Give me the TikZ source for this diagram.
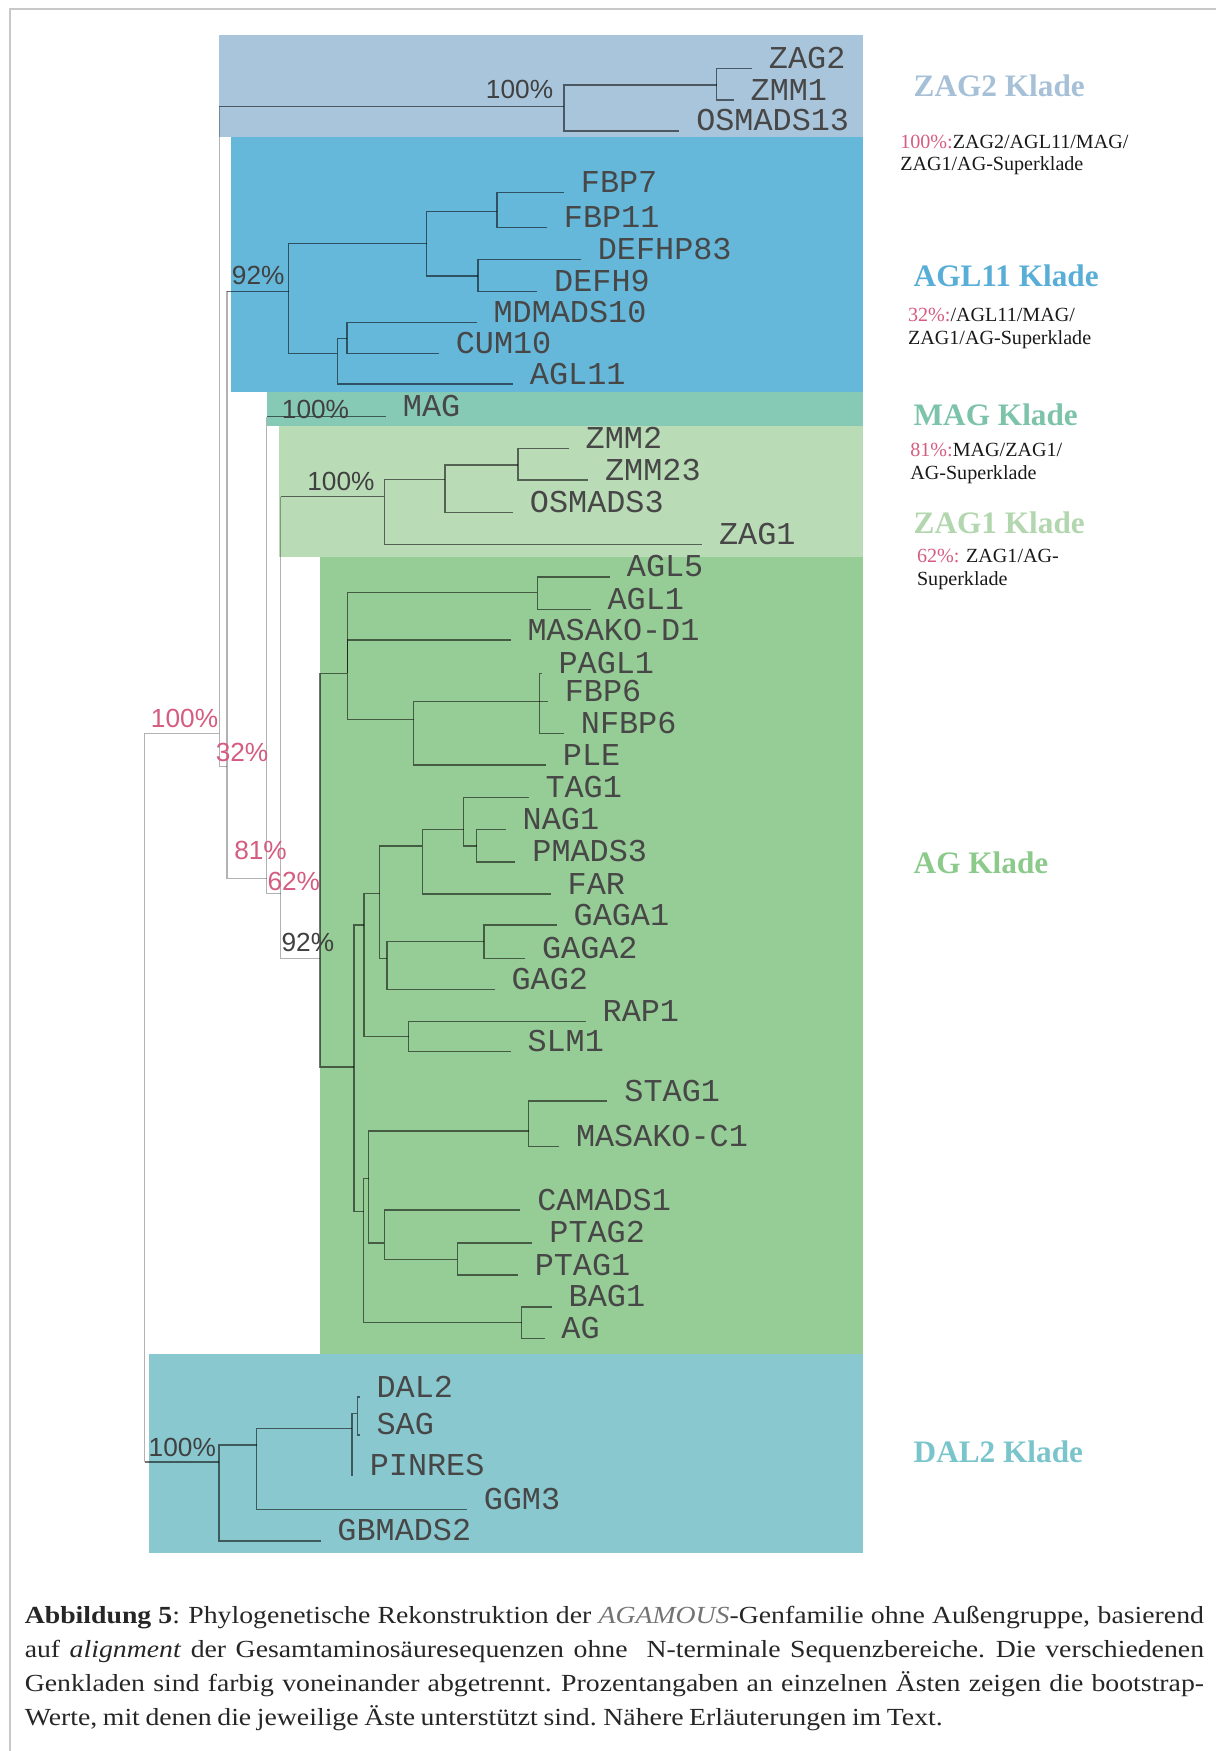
\documentclass[tikz,border=0pt]{standalone}
\usepackage{fontspec}
\setmainfont{Liberation Serif}
\setsansfont{Liberation Sans}
\setmonofont{Liberation Mono}
\newfontfamily\captfamily[FakeStretch=1.13]{Liberation Serif}

\definecolor{boxzagtwo}{RGB}{169,197,219}
\definecolor{boxagl}{RGB}{102,184,219}
\definecolor{boxmag}{RGB}{134,201,180}
\definecolor{boxzagone}{RGB}{185,219,182}
\definecolor{boxag}{RGB}{150,204,150}
\definecolor{boxdal}{RGB}{138,200,208}
\definecolor{txtzagtwo}{RGB}{166,192,215}
\definecolor{txtagl}{RGB}{88,174,214}
\definecolor{txtmag}{RGB}{124,195,170}
\definecolor{txtzagone}{RGB}{178,214,174}
\definecolor{txtag}{RGB}{140,202,140}
\definecolor{txtdal}{RGB}{122,196,203}
\definecolor{pinkred}{RGB}{212,92,128}
\definecolor{framegray}{RGB}{200,200,200}

\newcommand\leaffont{\ttfamily\fontsize{28.5}{30}\selectfont}
\newcommand\bootfont{\sffamily\fontsize{23.5}{25}\selectfont}
\newcommand\kladefont{\rmfamily\bfseries\fontsize{28}{30}\selectfont}
\newcommand\notefont{\rmfamily\fontsize{18}{20}\selectfont}
\newcommand\captfont{\captfamily\fontsize{22}{30.5}\selectfont\spaceskip=5pt plus 4pt minus 1pt\xspaceskip=6pt plus 4pt minus 1pt}

\tikzstyle{leaf} = [anchor=base west, inner sep=0pt, xshift=15pt, font=\leaffont, text=black!72]
\tikzstyle{boot} = [anchor=base west, inner sep=0pt, font=\bootfont, text=black!75]
\tikzstyle{pinkboot} = [boot, text=pinkred]
\tikzstyle{klade} = [anchor=base west, inner sep=0pt, font=\kladefont]
\tikzstyle{note} = [anchor=west, inner sep=0pt, align=left, font=\notefont, text=black!90]
\tikzstyle{branch} = [draw=black, draw opacity=0.55, line width=1.3pt]
\tikzstyle{spine} = [draw=black, draw opacity=0.3, line width=1.3pt]

\begin{document}
\begin{tikzpicture}[x=1pt,y=-1pt]
\useasboundingbox (0,0) rectangle (1089,1568);
\draw[framegray, line width=2.5pt] (9,1568) -- (9,8) -- (1089,8);

% clade boxes
\fill[boxzagtwo] (196,31.5) rectangle (773,122.5);
\fill[boxagl] (206.6,122.5) rectangle (773,350.8);
\fill[boxmag] (238.8,350.8) rectangle (773,381.8);
\fill[boxzagone] (250,381.8) rectangle (773,498.6);
\fill[boxag] (286.5,498.6) rectangle (773,1212.8);
\fill[boxdal] (133.8,1212.8) rectangle (773,1390.5);

% inner nodes
\coordinate (r) at (129.5,656.7);
\coordinate (sup) at (196.4,656.7);
\coordinate (n32) at (203.4,686.6);
\coordinate (n81) at (238.8,786.6);
\coordinate (n62) at (251.4,800);
\coordinate (n92) at (286.5,858.3);
\coordinate (zag2n) at (505,95.5);
\coordinate (zmn) at (641.7,76.1);
\coordinate (agl11n) at (258.5,261);
\coordinate (a1) at (382.1,217.9);
\coordinate (fb) at (445.1,189.6);
\coordinate (df) at (428.1,247.2);
\coordinate (a2) at (302.2,316.4);
\coordinate (cm) at (310.9,303);
\coordinate (zag1n) at (344.3,444.8);
\coordinate (zo) at (398.6,429.3);
\coordinate (zz) at (463.7,416.4);
\coordinate (g1) at (311,603);
\coordinate (g1a) at (481.1,530.5);
\coordinate (g1b) at (370.4,644.2);
\coordinate (pf) at (483.3,628.4);
\coordinate (g2) at (317,955.3);
\coordinate (g2a) at (326.1,828.4);
\coordinate (g3) at (340,800);
\coordinate (g4) at (378.2,757.6);
\coordinate (tn) at (415.1,742.7);
\coordinate (np) at (426.8,757.6);
\coordinate (g5) at (346.5,858.2);
\coordinate (gg) at (433.3,843.3);
\coordinate (rs) at (366,928.4);
\coordinate (g2b) at (325.7,1085.1);
\coordinate (g6) at (330,1055.3);
\coordinate (sm) at (473.3,1012.6);
\coordinate (g7) at (344.3,1112.9);
\coordinate (pt) at (409.5,1127.8);
\coordinate (ba) at (467.2,1184.5);
\coordinate (dal) at (196,1309);
\coordinate (d1) at (229.8,1294);
\coordinate (d2) at (315.3,1279.2);
\coordinate (d3) at (320,1266);

% leaves
\coordinate (ZAG2) at (673.4,61.2);      \node[leaf] (nZAG2) at (ZAG2) {ZAG2};
\coordinate (ZMM1) at (657,89.6);        \node[leaf] (nZMM1) at (ZMM1) {ZMM1};
\coordinate (OSMADS13) at (608.3,117.3); \node[leaf] (nOSMADS13) at (OSMADS13) {OSMADS13};
\coordinate (FBP7) at (505,172.6);       \node[leaf] (nFBP7) at (FBP7) {FBP7};
\coordinate (FBP11) at (489.8,203.6);    \node[leaf] (nFBP11) at (FBP11) {FBP11};
\coordinate (DEFHP83) at (520.2,232.3);  \node[leaf] (nDEFHP83) at (DEFHP83) {DEFHP83};
\coordinate (DEFH9) at (481.1,261.2);    \node[leaf] (nDEFH9) at (DEFH9) {DEFH9};
\coordinate (MDMADS10) at (426.8,289);   \node[leaf] (nMDMADS10) at (MDMADS10) {MDMADS10};
\coordinate (CUM10) at (393,316.4);      \node[leaf] (nCUM10) at (CUM10) {CUM10};
\coordinate (AGL11) at (459.4,343.9);    \node[leaf] (nAGL11) at (AGL11) {AGL11};
\coordinate (MAG) at (345.6,373.2);      \node[leaf] (nMAG) at (MAG) {MAG};
\coordinate (ZMM2) at (509.3,401.5);     \node[leaf] (nZMM2) at (ZMM2) {ZMM2};
\coordinate (ZMM23) at (526.7,429.9);    \node[leaf] (nZMM23) at (ZMM23) {ZMM23};
\coordinate (OSMADS3) at (459.4,459.1);  \node[leaf] (nOSMADS3) at (OSMADS3) {OSMADS3};
\coordinate (ZAG1) at (628.7,487.5);     \node[leaf] (nZAG1) at (ZAG1) {ZAG1};
\coordinate (AGL5) at (546.2,516.5);     \node[leaf] (nAGL5) at (AGL5) {AGL5};
\coordinate (AGL1) at (528.9,545.7);     \node[leaf] (nAGL1) at (AGL1) {AGL1};
\coordinate (MASAKO-D1) at (457.2,573.2); \node[leaf] (nMASAKO-D1) at (MASAKO-D1) {MASAKO-D1};
\coordinate (PAGL1) at (485,603);        \node[leaf] (nPAGL1) at (PAGL1) {PAGL1};
\coordinate (FBP6) at (490.6,628.4);     \node[leaf] (nFBP6) at (FBP6) {FBP6};
\coordinate (NFBP6) at (505,656.8);      \node[leaf] (nNFBP6) at (NFBP6) {NFBP6};
\coordinate (PLE) at (488.9,685.1);      \node[leaf] (nPLE) at (PLE) {PLE};
\coordinate (TAG1) at (473.3,714);       \node[leaf] (nTAG1) at (TAG1) {TAG1};
\coordinate (NAG1) at (452.9,742.7);     \node[leaf] (nNAG1) at (NAG1) {NAG1};
\coordinate (PMADS3) at (461.6,771.7);   \node[leaf] (nPMADS3) at (PMADS3) {PMADS3};
\coordinate (FAR) at (493.2,800.6);      \node[leaf] (nFAR) at (FAR) {FAR};
\coordinate (GAGA1) at (498.5,828.4);    \node[leaf] (nGAGA1) at (GAGA1) {GAGA1};
\coordinate (GAGA2) at (470.2,858.2);    \node[leaf] (nGAGA2) at (GAGA2) {GAGA2};
\coordinate (GAG2) at (442.9,886);       \node[leaf] (nGAG2) at (GAG2) {GAG2};
\coordinate (RAP1) at (524.5,914.6);     \node[leaf] (nRAP1) at (RAP1) {RAP1};
\coordinate (SLM1) at (457.2,941.8);     \node[leaf] (nSLM1) at (SLM1) {SLM1};
\coordinate (STAG1) at (544,986);        \node[leaf] (nSTAG1) at (STAG1) {STAG1};
\coordinate (MASAKO-C1) at (500.6,1026.9); \node[leaf] (nMASAKO-C1) at (MASAKO-C1) {MASAKO-C1};
\coordinate (CAMADS1) at (465.9,1083.6); \node[leaf] (nCAMADS1) at (CAMADS1) {CAMADS1};
\coordinate (PTAG2) at (476.8,1112.9);   \node[leaf] (nPTAG2) at (PTAG2) {PTAG2};
\coordinate (PTAG1) at (463.7,1141.8);   \node[leaf] (nPTAG1) at (PTAG1) {PTAG1};
\coordinate (BAG1) at (494.1,1170.2);    \node[leaf] (nBAG1) at (BAG1) {BAG1};
\coordinate (AG) at (487.6,1198.5);      \node[leaf] (nAG) at (AG) {AG};
\coordinate (DAL2) at (322,1251);        \node[leaf] (nDAL2) at (DAL2) {DAL2};
\coordinate (SAG) at (322,1285);         \node[leaf] (nSAG) at (SAG) {SAG};
\coordinate (PINRES) at (316,1321);      \node[leaf] (nPINRES) at (PINRES) {PINRES};
\coordinate (GGM3) at (418,1351.7);      \node[leaf] (nGGM3) at (GGM3) {GGM3};
\coordinate (GBMADS2) at (287,1379.8);   \node[leaf] (nGBMADS2) at (GBMADS2) {GBMADS2};

% backbone: vertical parts light, branches into the boxes dark
\draw[spine] (r) |- (sup);
\draw[spine] (r) -- (r |- dal);  \draw[branch] (r |- dal) -- (dal);
\draw[spine] (sup) -- (sup |- zag2n);  \draw[branch] (sup |- zag2n) -- (zag2n);
\draw[spine] (sup) |- (n32);
\draw[spine] (n32) -- (n32 |- agl11n);  \draw[branch] (n32 |- agl11n) -- (agl11n);
\draw[spine] (n32) |- (n81);
\draw[spine] (n81) -- (n81 |- MAG);  \draw[branch] (n81 |- MAG) -- (MAG);
\draw[spine] (n81) |- (n62);
\draw[spine] (n62) -- (n62 |- zag1n);  \draw[branch] (n62 |- zag1n) -- (zag1n);
\draw[spine] (n62) |- (n92);

% ZAG2 clade
\draw[branch] (zag2n) |- (zmn);  \draw[branch] (zag2n) |- (OSMADS13);
\draw[branch] (zmn) |- (ZAG2);  \draw[branch] (zmn) |- (ZMM1);
% AGL11 clade
\draw[branch] (agl11n) |- (a1);  \draw[branch] (agl11n) |- (a2);
\draw[branch] (a1) |- (fb);  \draw[branch] (a1) |- (df);
\draw[branch] (fb) |- (FBP7);  \draw[branch] (fb) |- (FBP11);
\draw[branch] (df) |- (DEFHP83);  \draw[branch] (df) |- (DEFH9);
\draw[branch] (a2) |- (cm);  \draw[branch] (a2) |- (AGL11);
\draw[branch] (cm) |- (MDMADS10);  \draw[branch] (cm) |- (CUM10);
% ZAG1 clade
\draw[branch] (zag1n) |- (zo);  \draw[branch] (zag1n) |- (ZAG1);
\draw[branch] (zo) |- (zz);  \draw[branch] (zo) |- (OSMADS3);
\draw[branch] (zz) |- (ZMM2);  \draw[branch] (zz) |- (ZMM23);
% AG clade
\draw[branch] (n92) |- (g1);  \draw[branch] (n92) |- (g2);
\draw[branch] (g1) |- (g1a);  \draw[branch] (g1) |- (MASAKO-D1);  \draw[branch] (g1) |- (g1b);
\draw[branch] (g1a) |- (AGL5);  \draw[branch] (g1a) |- (AGL1);
\draw[branch] (g1b) |- (pf);  \draw[branch] (g1b) |- (PLE);
\draw[branch] (pf) |- (PAGL1);  \draw[branch] (pf) |- (FBP6);  \draw[branch] (pf) |- (NFBP6);
\draw[branch] (g2) |- (g2a);  \draw[branch] (g2) |- (g2b);
\draw[branch] (g2a) |- (g3);  \draw[branch] (g2a) |- (rs);
\draw[branch] (g3) |- (g4);  \draw[branch] (g3) |- (g5);
\draw[branch] (g4) |- (tn);  \draw[branch] (g4) |- (FAR);
\draw[branch] (tn) |- (TAG1);  \draw[branch] (tn) |- (np);
\draw[branch] (np) |- (NAG1);  \draw[branch] (np) |- (PMADS3);
\draw[branch] (g5) |- (gg);  \draw[branch] (g5) |- (GAG2);
\draw[branch] (gg) |- (GAGA1);  \draw[branch] (gg) |- (GAGA2);
\draw[branch] (rs) |- (RAP1);  \draw[branch] (rs) |- (SLM1);
\draw[branch] (g2b) |- (g6);  \draw[branch] (g2b) |- (ba);
\draw[branch] (g6) |- (sm);  \draw[branch] (g6) |- (g7);
\draw[branch] (sm) |- (STAG1);  \draw[branch] (sm) |- (MASAKO-C1);
\draw[branch] (g7) |- (CAMADS1);  \draw[branch] (g7) |- (pt);
\draw[branch] (pt) |- (PTAG2);  \draw[branch] (pt) |- (PTAG1);
\draw[branch] (ba) |- (BAG1);  \draw[branch] (ba) |- (AG);
% DAL2 clade
\draw[branch] (dal) |- (d1);  \draw[branch] (dal) |- (GBMADS2);
\draw[branch] (d1) |- (d2);  \draw[branch] (d1) |- (GGM3);
\draw[branch] (d2) |- (d3);  \draw[branch] (d2) |- (PINRES);
\draw[branch] (d3) |- (DAL2);  \draw[branch] (d3) |- (SAG);

% bootstrap values
\node[boot] (bZAG2) at (435,88) {100\%};
\node[boot] (bAGL11) at (207.5,255) {92\%};
\node[boot] (bMAG) at (252.3,375) {100\%};
\node[boot] (bZAG1) at (275,438.8) {100\%};
\node[pinkboot] (bRoot) at (135,651.5) {100\%};
\node[pinkboot] (b32) at (193,682) {32\%};
\node[pinkboot] (b81) at (209.6,770) {81\%};
\node[pinkboot] (b62) at (239.4,797) {62\%};
\node[boot] (bAG) at (252,852.3) {92\%};
\node[boot] (bDAL2) at (133,1304.6) {100\%};

% clade names
\node[klade, text=txtzagtwo] (kZAG2) at (818,86) {ZAG2 Klade};
\node[note] (sZAG2) at (806,139) {\textcolor{pinkred}{100\%:}ZAG2/AGL11/MAG/\\ZAG1/AG-Superklade};
\node[klade, text=txtagl] (kAGL11) at (818,257) {AGL11 Klade};
\node[note] (sAGL11) at (813,294) {\textcolor{pinkred}{32\%:}/AGL11/MAG/\\ZAG1/AG-Superklade};
\node[klade, text=txtmag] (kMAG) at (818,381) {MAG Klade};
\node[note] (sMAG) at (815,415) {\textcolor{pinkred}{81\%:}MAG/ZAG1/\\AG-Superklade};
\node[klade, text=txtzagone] (kZAG1) at (818,478) {ZAG1 Klade};
\node[note] (sZAG1) at (821,510) {\textcolor{pinkred}{62\%:} ZAG1/AG-\\Superklade};
\node[klade, text=txtag] (kAG) at (818,782) {AG Klade};
\node[klade, text=txtdal] (kDAL2) at (818,1310) {DAL2 Klade};

% caption
\node[anchor=north west, inner sep=0pt, text width=1056pt, align=justify, font=\captfont, text=black!85] (capt) at (22,1438)
  {\textbf{Abbildung 5}: Phylogenetische Rekonstruktion der \textit{\textcolor{black!55}{AGAMOUS}}-Genfamilie ohne Außengruppe, basierend\linebreak
   auf \textit{alignment} der Gesamtaminosäuresequenzen ohne \ N-terminale Sequenzbereiche. Die verschiedenen\linebreak
   Genkladen sind farbig voneinander abgetrennt. Prozentangaben an einzelnen Ästen zeigen die bootstrap-\linebreak
   Werte, mit denen die jeweilige Äste unterstützt sind. Nähere Erläuterungen im Text.};
\end{tikzpicture}
\end{document}
